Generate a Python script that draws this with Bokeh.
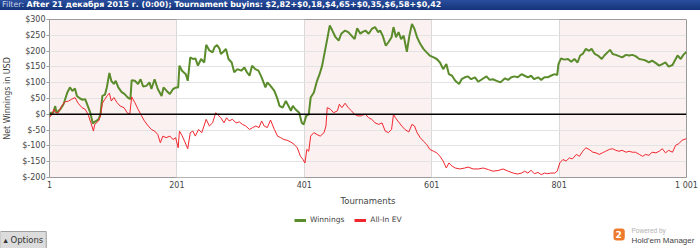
from bokeh.plotting import figure
from bokeh.models import (Div, Span, Label, Legend, LegendItem, FixedTicker,
                          PrintfTickFormatter, Range1d, ColumnDataSource)
from bokeh.embed import file_html
from bokeh.resources import INLINE

filter_label = "Filter:"
filter_text = "After 21 декабря 2015 г. (0:00); Tournament buyins: $2,82+$0,18,$4,65+$0,35,$6,58+$0,42"
x_title = "Tournaments"
y_title = "Net Winnings in USD"
x_ticks = [1, 201, 401, 601, 801, 1001]
x_tick_labels = ["1", "201", "401", "601", "801", "1 001"]
y_ticks = [-200, -150, -100, -50, 0, 50, 100, 150, 200, 250, 300]
series_names = ["Winnings", "All-In EV"]
series_colors = ["#5b8c2c", "#f0262e"]

win_t = [1, 3, 7, 10, 12, 18, 23, 29, 33, 37, 41, 44, 49, 53, 57, 60, 65, 69, 72, 78, 81, 84, 88, 91, 95,
         98, 102, 105, 109, 114, 119, 124, 128, 130, 135, 140, 144, 148, 153, 158, 161, 166, 171, 177,
         180, 185, 190, 195, 200, 203, 205, 209, 215, 218, 222, 226, 230, 234, 239, 244, 247, 252, 257,
         260, 264, 268, 270, 274, 278, 282, 287, 291, 296, 302, 307, 311, 315, 319, 324, 329, 334, 340,
         343, 348, 354, 359, 362, 367, 372, 376, 380, 383, 387, 393, 397, 400, 404, 408, 411, 416, 421,
         425, 429, 433, 437, 441, 445, 450, 455, 459, 465, 470, 475, 480, 484, 489,
         492, 497, 502, 507, 512, 517, 520, 524, 529, 533, 538, 541, 545, 549, 553, 557, 562, 566, 570,
         574, 578, 583, 588, 593, 598, 604, 609, 614, 619, 624, 628, 633, 638, 644, 648, 653, 658, 663,
         669, 674, 680, 687, 692, 697, 703, 709, 716, 721, 726, 731, 736,
         742, 747, 752, 757, 762, 768, 773, 778, 783, 788, 794, 798, 800, 804, 809, 815, 820, 825, 830,
         834, 838, 843, 848, 852, 857, 862, 868, 872, 877, 881, 885, 890, 895, 900, 906, 911, 916, 921,
         927, 932, 937, 942, 947, 953, 958, 963, 968, 973, 979, 984, 987, 992, 996, 1001]
win_v = [-5, 5, 5, 26, 5, 16, 32, 69, 85, 74, 82, 58, 50, 46, 48, 32, 5, -29, -24, -16, 0, 58, 62, 85, 131,
         106, 96, 106, 85, 71, 64, 53, 48, 108, 106, 96, 111, 88, 90, 101, 80, 111, 80, 58,
         85, 74, 64, 80, 85, 85, 154, 138, 127, 106, 180, 175, 177, 154, 175, 164, 220, 202, 196,
         212, 219, 207, 191, 198, 207, 175, 164, 133, 143, 138, 148, 133, 122, 154, 143, 138, 117, 85,
         101, 90, 74, 48, 27, 21, 42, 27, 11, 27, 16, 5, -27, -32, -5, 0, 53, 69, 106,
         127, 154, 196, 238, 281, 265, 244, 233, 255, 265, 260, 249, 238, 272, 255,
         260, 265, 255, 270, 276, 260, 265, 249, 217, 228, 244, 276, 244, 260, 238, 249, 198, 249, 286,
         270, 244, 223, 207, 196, 186, 180, 175, 164, 143, 159, 127, 122, 106, 96, 111, 117, 120, 111,
         117, 103, 111, 120, 109, 111, 106, 101, 114, 109, 117, 120, 117,
         127, 122, 117, 122, 111, 117, 109, 117, 117, 122, 127, 124, 159, 177, 173, 175, 166, 175, 164,
         186, 191, 207, 201, 207, 191, 186, 175, 186, 196, 204, 191, 188, 184, 180, 188, 186, 188, 184,
         175, 173, 170, 164, 170, 162, 154, 159, 164, 151, 156, 175, 186, 175, 188, 198]

ev_t = [1, 5, 8, 11, 15, 20, 25, 31, 36, 41, 46, 52, 57, 62, 66, 70, 72, 78, 81, 84, 88, 92, 95, 98, 102,
        107, 112, 118, 123, 127, 130, 135, 140, 145, 150, 156, 161, 166, 171, 175, 179, 184, 190, 195,
        199, 203, 205, 209, 213, 218, 222, 226, 230, 235, 240, 247, 252, 257,
        262, 267, 270, 275, 279, 283, 288, 294, 299, 304, 309, 315, 320, 325, 330, 334, 338, 343, 348,
        354, 359, 364, 369, 374, 380, 385, 390, 395, 399, 402, 405, 408, 411, 416, 421, 426, 432, 435,
        437, 442, 447, 453, 456, 460, 465, 470, 475, 480, 485, 491,
        492, 497, 502, 507, 512, 518, 523, 528, 533, 538, 541, 544, 549, 554, 559, 565, 570, 574, 578,
        583, 588, 593, 598, 604, 609, 614, 619, 624, 628, 633, 638, 645, 653, 658, 666, 674, 682, 690,
        697, 705, 713, 721, 729, 736,
        742, 747, 752, 757, 762, 768, 773, 778, 783, 788, 794, 798, 802, 807, 812, 817, 822, 828, 833,
        838, 843, 848, 854, 859, 864, 869, 874, 880, 885, 890, 895, 900, 906, 911, 916, 921, 927, 932,
        937, 942, 947, 953, 958, 963, 968, 973, 979, 984, 989, 994, 1001]
ev_v = [-10, 0, 16, 5, 5, 26, 39, 42, 48, 53, 35, 21, 16, -3, -27, -53, -32, -21, -5, 35, 48, 60, 67, 42, 53,
        37, 26, 21, 5, 0, 55, 37, 16, -3, -21, -37, -48, -53, -64, -90, -69, -74, -69, -80,
        -74, -106, -53, -67, -85, -109, -58, -53, -69, -48, -58, -16, -37, -27,
        5, -5, -11, -27, -11, -21, -16, -27, -24, -32, -37, -48, -42, -37, -42, -21, -37, -42, -18,
        -48, -69, -74, -80, -82, -88, -95, -106, -133, -143, -154, -111, -117, -69, -58, -64, -69, -58, -37,
        21, 16, 5, 11, 32, 21, 35, 21, 11, 0, -5, -5,
        -3, 0, -11, -16, -27, -32, -27, -53, -58, -48, 0, -11, -24, -37, -48, -56, -32, -37, -58,
        -74, -85, -95, -111, -117, -122, -133, -148, -170, -154, -164, -170, -173, -170, -167, -173, -173, -170, -175,
        -180, -178, -173, -180, -186, -189,
        -186, -180, -186, -177, -188, -184, -191, -186, -188, -186, -186, -180, -154, -143, -148, -138, -141, -127, -133,
        -117, -106, -111, -120, -122, -127, -122, -117, -111, -109, -114, -117, -114, -120, -117, -120, -120, -127, -133,
        -127, -130, -120, -122, -117, -109, -122, -114, -120, -98, -93, -82, -77]

FONT = "DejaVu Sans"

# ---------- main chart ----------
p = figure(width=700, height=198, output_backend="svg", toolbar_location=None,
           x_range=Range1d(x_ticks[0], x_ticks[-1]), y_range=Range1d(y_ticks[0], y_ticks[-1]),
           min_border_left=46, min_border_right=14, min_border_top=9, min_border_bottom=27)
p.outline_line_color = "#9a9a9a"
p.background_fill_color = "#fcf1f1"
p.border_fill_color = "white"

win_src = ColumnDataSource(dict(t=win_t, v=win_v))
ev_src = ColumnDataSource(dict(t=ev_t, v=ev_v))
p.line("t", "v", source=win_src, line_color=series_colors[0], line_width=2)
p.line("t", "v", source=ev_src, line_color=series_colors[1], line_width=1)

p.add_layout(Span(location=0, dimension="width", line_color="black", line_width=1.5))

p.xgrid.ticker = FixedTicker(ticks=x_ticks)
p.xgrid.grid_line_color = "#d9d9d9"
p.xgrid.band_fill_color = "white"
p.xgrid.band_fill_alpha = 1
p.xgrid.level = "underlay"
p.ygrid.ticker = FixedTicker(ticks=y_ticks)
p.ygrid.grid_line_color = "#e3e3e3"

xa = p.xaxis[0]
xa.ticker = FixedTicker(ticks=x_ticks)
xa.major_label_overrides = {t: l for t, l in zip(x_ticks, x_tick_labels)}
xa.axis_line_color = None
xa.major_tick_out = 0
xa.major_tick_in = 0
xa.minor_tick_out = 0
xa.minor_tick_in = 0
xa.major_label_text_font = FONT
xa.major_label_text_font_size = "8px"
xa.major_label_text_color = "#444444"
xa.major_label_standoff = 3
xa.axis_label = x_title
xa.axis_label_text_font = FONT
xa.axis_label_text_font_size = "8.5px"
xa.axis_label_text_font_style = "normal"
xa.axis_label_text_color = "#444444"
xa.axis_label_standoff = 3

ya = p.yaxis[0]
ya.ticker = FixedTicker(ticks=y_ticks)
ya.formatter = PrintfTickFormatter(format="$%d")
ya.axis_line_color = None
ya.major_tick_out = 3
ya.major_tick_in = 0
ya.minor_tick_out = 0
ya.minor_tick_in = 0
ya.major_tick_line_color = "#9a9a9a"
ya.major_label_text_font = FONT
ya.major_label_text_font_size = "8px"
ya.major_label_text_color = "#444444"
ya.major_label_standoff = 1
ya.axis_label = y_title
ya.axis_label_text_font = FONT
ya.axis_label_text_font_size = "8px"
ya.axis_label_text_font_style = "normal"
ya.axis_label_text_color = "#444444"
ya.axis_label_standoff = 7

# ---------- bottom strip: legend, options button, logo ----------
b = figure(width=700, height=40, output_backend="svg", toolbar_location=None,
           x_axis_type=None, y_axis_type=None, min_border=0,
           x_range=Range1d(0, 1), y_range=Range1d(0, 1))
b.outline_line_color = None
b.grid.visible = False
lg_src = ColumnDataSource(dict(x=[float("nan")], y=[float("nan")]))
lg_w = b.line("x", "y", source=lg_src, line_color=series_colors[0], line_width=3)
lg_r = b.line("x", "y", source=lg_src, line_color=series_colors[1], line_width=3)
legend = Legend(items=[LegendItem(label=series_names[0], renderers=[lg_w]),
                       LegendItem(label=series_names[1], renderers=[lg_r])],
                orientation="horizontal", location=(294, 24))
legend.label_text_font = FONT
legend.label_text_font_size = "7.5px"
legend.label_text_color = "#444444"
legend.glyph_width = 12
legend.glyph_height = 8
legend.label_standoff = 4
legend.label_height = 8
legend.spacing = 10
legend.padding = 2
legend.margin = 0
legend.border_line_color = None
legend.background_fill_alpha = 0
b.add_layout(legend)

b.add_layout(Label(x=0, y=0, x_units="screen", y_units="screen", text="▴ Options",
                   text_font=FONT, text_font_size="8.5px", text_color="#333333",
                   background_fill_color="#dcdcdc", border_line_color="#a0a0a0",
                   padding=(3, 3, 3, 4)))
b.add_layout(Label(x=613, y=8, x_units="screen", y_units="screen", text="2",
                   text_font=FONT, text_font_size="9px", text_font_style="bold", text_color="white",
                   background_fill_color="#ee7a2c", border_radius=3, padding=(2, 3, 2, 3)))
b.add_layout(Label(x=631, y=15, x_units="screen", y_units="screen", text="Powered by",
                   text_font="Liberation Sans", text_font_size="6.5px", text_color="#b0b0b0"))
b.add_layout(Label(x=631, y=4, x_units="screen", y_units="screen", text="Hold'em Manager",
                   text_font="Liberation Sans", text_font_size="8px", text_color="#444444"))

# ---------- title bar ----------
bar = Div(text=f'<span style="font-weight:normal;color:#c9d4ea">{filter_label}</span> <b>{filter_text}</b>',
          width=700, height=10, margin=0,
          styles={"background": "linear-gradient(#2a4e9e, #14357a)", "color": "white",
                  "font-family": "'DejaVu Sans', sans-serif", "font-size": "7.9px",
                  "line-height": "10px", "white-space": "nowrap", "overflow": "hidden",
                  "padding-left": "2px", "box-sizing": "border-box"})

open("out.html", "w").write(file_html([bar, p, b], INLINE))
